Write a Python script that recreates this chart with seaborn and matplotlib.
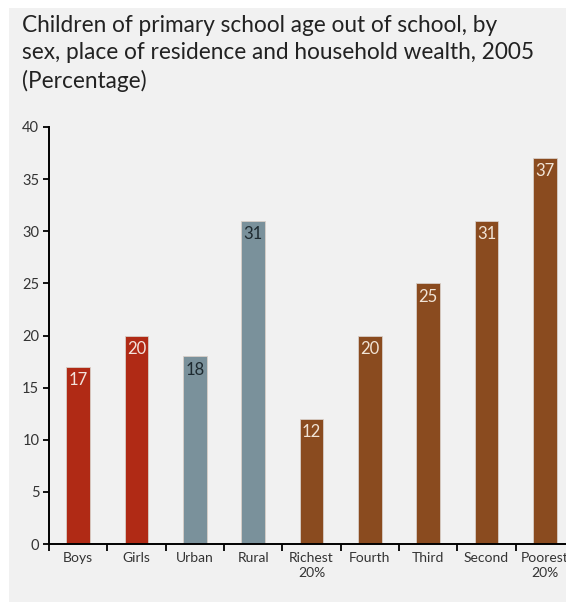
import matplotlib
matplotlib.use('Agg')
import matplotlib.pyplot as plt
import seaborn as sns
import pandas as pd
import numpy as np
from matplotlib.patches import Rectangle

# Data
categories = ['Boys', 'Girls', 'Urban', 'Rural', 'Richest\n20%', 'Fourth', 'Third', 'Second', 'Poorest\n20%']
values = [17, 20, 18, 31, 12, 20, 25, 31, 37]
groups = ['sex', 'sex', 'residence', 'residence', 'wealth', 'wealth', 'wealth', 'wealth', 'wealth']

group_colors = {'sex': '#b02a15', 'residence': '#7a919b', 'wealth': '#8a4b1f'}
label_colors = {'sex': '#f3e3dc', 'residence': '#1e2a30', 'wealth': '#f1e4d6'}

df = pd.DataFrame({'category': categories, 'value': values, 'group': groups})

sns.set_style('white')
plt.rcParams['font.family'] = ['Lato', 'DejaVu Sans']

bg = '#f1f1f1'
fig = plt.figure(figsize=(5.66, 6.02), dpi=100)
fig.patch.set_facecolor('white')
fig.patches.append(Rectangle((9 / 566, 0), 1, 1 - 8 / 602, transform=fig.transFigure,
                             facecolor=bg, edgecolor='none', zorder=-10))

ax = fig.add_axes([49 / 566, 58 / 602, 525 / 566, 417 / 602])
ax.set_facecolor('none')

sns.barplot(data=df, x='category', y='value', hue='group', palette=group_colors,
            saturation=1, dodge=False, width=0.41, legend=False, ax=ax,
            edgecolor='#d8cfc8', linewidth=0.6)

# value labels inside bar tops
for i, (v, g) in enumerate(zip(values, groups)):
    ax.text(i, v - 0.5, str(v), ha='center', va='top', fontsize=12,
            color=label_colors[g])

ax.set_xlim(-0.5, 8.5)
ax.set_ylim(0, 40)
ax.set_yticks(range(0, 41, 5))
ax.set_xlabel('')
ax.set_ylabel('')

ax.set_xticks(range(len(categories)))
ax.set_xticklabels(categories, fontsize=10, color='#333333', linespacing=1.25)
ax.set_xticks(np.arange(-0.5, 9, 1), minor=True)
ax.tick_params(axis='x', which='major', bottom=True, length=0, pad=6)
ax.tick_params(axis='x', which='minor', bottom=True, length=5, width=1.3,
               color='black', direction='out')
ax.tick_params(axis='y', left=True, length=4, width=1.3, color='black', pad=3,
               labelsize=10.5, labelcolor='#333333')

for s in ['top', 'right']:
    ax.spines[s].set_visible(False)
for s in ['left', 'bottom']:
    ax.spines[s].set_color('black')
    ax.spines[s].set_linewidth(1.4)

fig.text(22 / 566, 1 - 15 / 602,
         'Children of primary school age out of school, by\n'
         'sex, place of residence and household wealth, 2005\n'
         '(Percentage)',
         ha='left', va='top', fontsize=16.3, color='#222222', linespacing=1.36)

fig.savefig('out.png', dpi=100, facecolor=fig.get_facecolor())
